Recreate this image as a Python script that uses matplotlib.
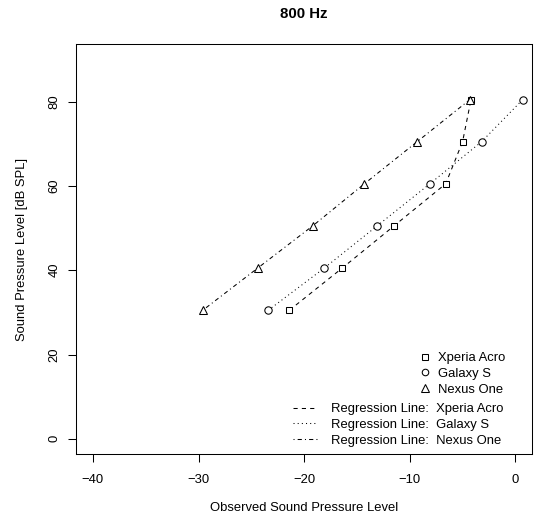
import matplotlib
matplotlib.use("Agg")
import matplotlib.pyplot as plt
from matplotlib.lines import Line2D

plt.rcParams['font.family'] = ['Liberation Sans', 'DejaVu Sans']

# reference levels (y) and observed levels (x) per phone
spl_levels = [30.5, 40.5, 50.5, 60.5, 70.5, 80.5]
xperia_obs = [-21.4, -16.4, -11.5, -6.6, -5.0, -4.2]
galaxy_obs = [-23.4, -18.1, -13.1, -8.1, -3.2, 0.7]
nexus_obs = [-29.6, -24.4, -19.2, -14.3, -9.3, -4.3]

phones = ["Xperia Acro", "Galaxy S", "Nexus One"]
markers = ["s", "o", "^"]
marker_sizes = [5, 5.3, 6.3]
dash_styles = [(0, (4, 4)), (0, (1, 3)), (0, (1, 3, 4, 3))]
x_ticks = [-40, -30, -20, -10, 0]
y_ticks = [0, 20, 40, 60, 80]

W, H = 539, 524
fig = plt.figure(figsize=(W / 100, H / 100), dpi=100)
ax = fig.add_axes([76 / W, 1 - 454 / H, (532.3 - 76) / W, (454 - 44.3) / H])

lw = 0.75
fs = 9.4
for obs, mk, ms, ls in zip([xperia_obs, galaxy_obs, nexus_obs], markers, marker_sizes, dash_styles):
    ax.plot(obs, spl_levels, color='black', lw=lw, linestyle=ls)
    ax.plot(obs, spl_levels, linestyle='none', marker=mk, markersize=ms,
            markerfacecolor='white', markeredgecolor='black', markeredgewidth=lw)

ax.set_xlim(-41.6, 1.6)
ax.set_ylim(-3.6, 93.6)
ax.set_xticks(x_ticks)
ax.set_yticks(y_ticks)
ax.set_xticklabels([str(t).replace('-', '\u2212') for t in x_ticks])
ax.set_yticklabels([str(t) for t in y_ticks], rotation=90, va='center')
ax.tick_params(direction='out', length=5.8, width=lw, labelsize=fs)
ax.tick_params(axis='x', pad=8.5)
ax.tick_params(axis='y', pad=5.5)
for sp in ax.spines.values():
    sp.set_linewidth(lw)

fig.text(0.5 * (76 + 532.3) / W, 1 - 508 / H, "Observed Sound Pressure Level",
         ha='center', va='center', fontsize=fs)
fig.text(22 / W, 1 - (44.3 + 454) / 2 / H, "Sound Pressure Level [dB SPL]",
         ha='center', va='center', rotation=90, fontsize=fs)
fig.text(0.5 * (76 + 532.3) / W, 1 - 14 / H, "800 Hz",
         ha='center', va='center', fontsize=10.8, fontweight='bold')

pt_handles = [Line2D([], [], linestyle='none', marker=mk, markersize=ms - 0.6,
                     markerfacecolor='white', markeredgecolor='black', markeredgewidth=lw)
              for mk, ms in zip(markers, marker_sizes)]
leg1 = fig.legend(pt_handles, phones, loc='upper left',
                  bbox_to_anchor=(419.5 / W, 1 - 352 / H), frameon=False, fontsize=fs,
                  borderpad=0, handlelength=0.9, handletextpad=0.55, labelspacing=0.28,
                  borderaxespad=0)

ln_handles = [Line2D([], [], color='black', lw=lw, linestyle=ls) for ls in dash_styles]
leg2 = fig.legend(ln_handles, ["Regression Line:  " + p for p in phones], loc='upper left',
                  bbox_to_anchor=(293 / W, 1 - 403 / H), frameon=False, fontsize=fs,
                  borderpad=0, handlelength=1.85, handletextpad=1.05, labelspacing=0.28,
                  borderaxespad=0)

fig.savefig("out.png", dpi=100)
